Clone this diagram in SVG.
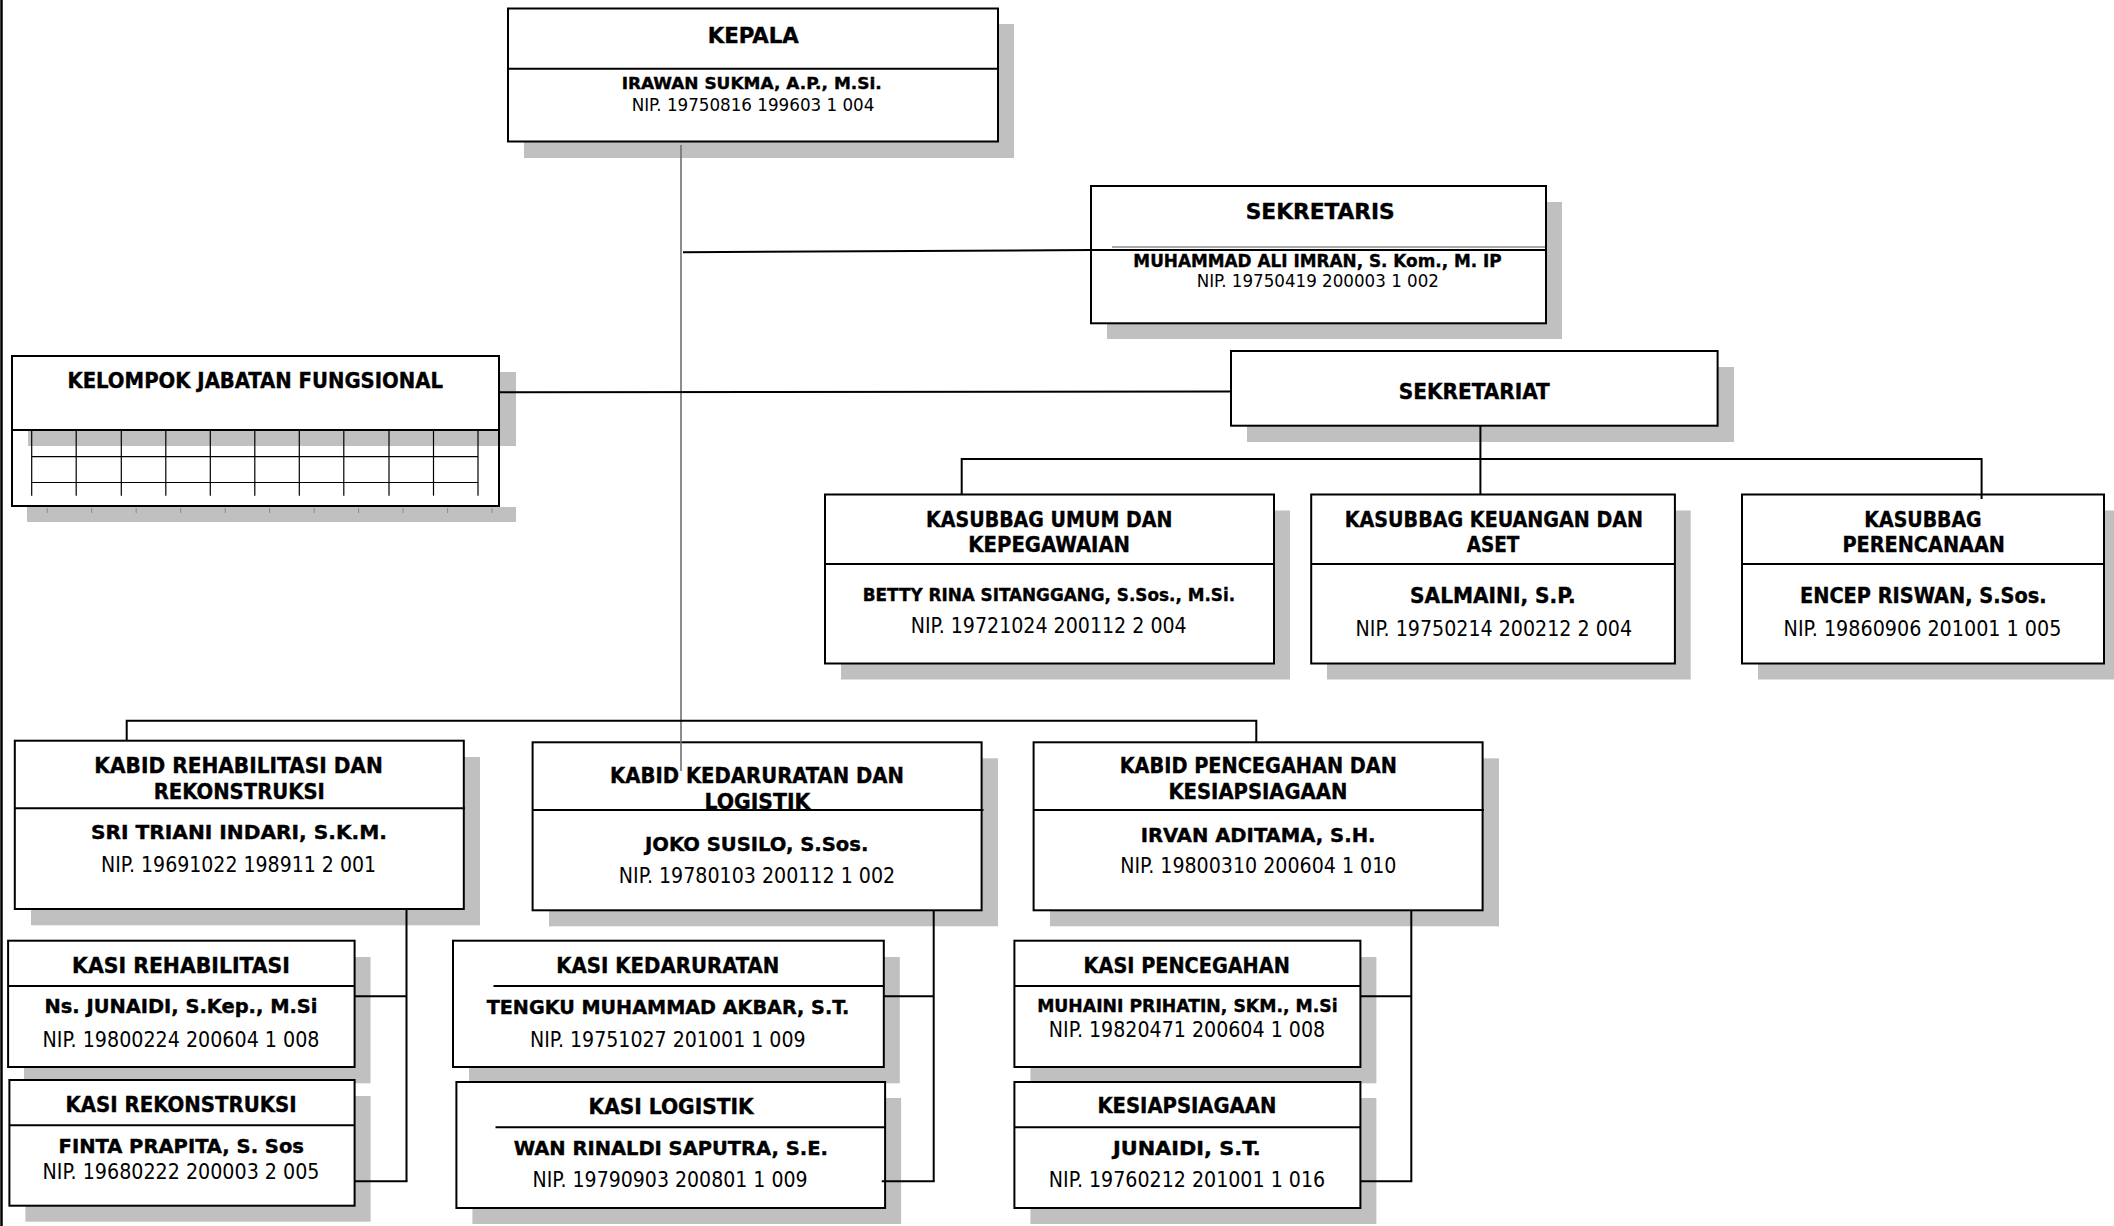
<svg xmlns="http://www.w3.org/2000/svg" width="2114" height="1226" viewBox="0 0 2114 1226">
<style>
.s{fill:#c0c0c0}
.b{fill:#fff;stroke:#000;stroke-width:2}
.o{fill:none;stroke:#000;stroke-width:2}
.d{stroke:#000;stroke-width:2}
.g{stroke:#000;stroke-width:1.2}
.t{stroke:#8a8a8a;stroke-width:1}
.c{stroke:#000;stroke-width:2;fill:none}
text{font-family:'DejaVu Sans Condensed','DejaVu Sans',sans-serif;text-anchor:middle;fill:#000}
.h{font-weight:bold;font-size:21.5px;stroke:#000;stroke-width:0.35}
.n{font-weight:bold;font-size:20px;stroke:#000;stroke-width:0.35}
.p{font-size:20.5px}
</style>
<rect x="0" y="0" width="2114" height="1226" fill="#fff"/>
<line x1="1.5" y1="0" x2="1.5" y2="1226" stroke="#000" stroke-width="2.5"/>

<g id="kepala">
<rect class="s" x="524" y="24" width="490" height="134"/>
<rect class="b" x="508" y="8.5" width="490" height="133"/>
<line class="d" x1="508" y1="68.7" x2="998" y2="68.7"/>
<text class="h" x="753.2" y="42.7" textLength="91" lengthAdjust="spacingAndGlyphs">KEPALA</text>
<text class="n" x="751.7" y="89.3" style="font-size:16px" textLength="260" lengthAdjust="spacingAndGlyphs">IRAWAN SUKMA, A.P., M.Si.</text>
<text class="p" x="753" y="111.3" style="font-size:18px" textLength="242.7" lengthAdjust="spacingAndGlyphs">NIP. 19750816 199603 1 004</text>
</g>

<g id="sekretaris">
<rect class="s" x="1107" y="202" width="455" height="137"/>
<rect class="b" x="1091" y="186" width="455" height="137.3"/>
<line x1="1112" y1="247" x2="1545" y2="247" stroke="#a8a8a8" stroke-width="2"/>
<line class="d" x1="1091" y1="250" x2="1546" y2="250"/>
<text class="h" x="1320.2" y="219.3" textLength="149" lengthAdjust="spacingAndGlyphs">SEKRETARIS</text>
<text class="n" x="1317.5" y="267.3" style="font-size:17.5px" textLength="368.3" lengthAdjust="spacingAndGlyphs">MUHAMMAD ALI IMRAN, S. Kom., M. IP</text>
<text class="p" x="1317.8" y="287" style="font-size:18px" textLength="242.3" lengthAdjust="spacingAndGlyphs">NIP. 19750419 200003 1 002</text>
</g>

<g id="kelompok">
<rect class="s" x="28" y="372" width="488" height="74"/>
<rect class="s" x="27" y="507" width="489" height="15"/>
<line class="t" x1="47.2" y1="508" x2="47.2" y2="513"/>
<line class="t" x1="91.7" y1="508" x2="91.7" y2="513"/>
<line class="t" x1="136.2" y1="508" x2="136.2" y2="513"/>
<line class="t" x1="180.7" y1="508" x2="180.7" y2="513"/>
<line class="t" x1="225.2" y1="508" x2="225.2" y2="513"/>
<line class="t" x1="269.7" y1="508" x2="269.7" y2="513"/>
<line class="t" x1="314.2" y1="508" x2="314.2" y2="513"/>
<line class="t" x1="358.6" y1="508" x2="358.6" y2="513"/>
<line class="t" x1="403.1" y1="508" x2="403.1" y2="513"/>
<line class="t" x1="447.6" y1="508" x2="447.6" y2="513"/>
<line class="t" x1="492.1" y1="508" x2="492.1" y2="513"/>
<rect class="b" x="12" y="356" width="487" height="74"/>
<line class="g" x1="31.7" y1="430" x2="31.7" y2="495.7"/>
<line class="g" x1="76.2" y1="430" x2="76.2" y2="495.7"/>
<line class="g" x1="121.3" y1="430" x2="121.3" y2="495.7"/>
<line class="g" x1="165.8" y1="430" x2="165.8" y2="495.7"/>
<line class="g" x1="210.3" y1="430" x2="210.3" y2="495.7"/>
<line class="g" x1="254.8" y1="430" x2="254.8" y2="495.7"/>
<line class="g" x1="299.3" y1="430" x2="299.3" y2="495.7"/>
<line class="g" x1="343.8" y1="430" x2="343.8" y2="495.7"/>
<line class="g" x1="389" y1="430" x2="389" y2="495.7"/>
<line class="g" x1="433.5" y1="430" x2="433.5" y2="495.7"/>
<line class="g" x1="478" y1="430" x2="478" y2="495.7"/>
<line class="g" x1="31.7" y1="456.7" x2="478" y2="456.7"/>
<line class="g" x1="31.7" y1="482.5" x2="478" y2="482.5"/>
<rect class="o" x="12" y="430" width="487" height="76"/>
<text class="h" x="255.2" y="388.3" textLength="375.5" lengthAdjust="spacingAndGlyphs">KELOMPOK JABATAN FUNGSIONAL</text>
</g>

<g id="sekretariat">
<rect class="s" x="1247" y="367" width="487" height="75"/>
<rect class="b" x="1231" y="351" width="486.6" height="74.7"/>
<text class="h" x="1474.3" y="399" textLength="151" lengthAdjust="spacingAndGlyphs">SEKRETARIAT</text>
</g>

<g id="kasubbag-umum">
<rect class="s" x="841" y="510.5" width="449" height="169"/>
<rect class="b" x="825" y="494.5" width="449" height="169"/>
<line class="d" x1="825" y1="564" x2="1274" y2="564"/>
<text class="h" x="1049.2" y="526.7" textLength="246.3" lengthAdjust="spacingAndGlyphs">KASUBBAG UMUM DAN</text>
<text class="h" x="1049.2" y="552.3" textLength="161.7" lengthAdjust="spacingAndGlyphs">KEPEGAWAIAN</text>
<text class="n" x="1048.9" y="600.7" style="font-size:18.5px" textLength="372.3" lengthAdjust="spacingAndGlyphs">BETTY RINA SITANGGANG, S.Sos., M.Si.</text>
<text class="p" x="1048.7" y="633.3" textLength="276" lengthAdjust="spacingAndGlyphs">NIP. 19721024 200112 2 004</text>
</g>

<g id="kasubbag-keuangan">
<rect class="s" x="1327" y="510.5" width="363.7" height="169"/>
<rect class="b" x="1311.2" y="494.5" width="363.7" height="169"/>
<line class="d" x1="1311.2" y1="564" x2="1674.9" y2="564"/>
<text class="h" x="1493.9" y="526.7" textLength="298.3" lengthAdjust="spacingAndGlyphs">KASUBBAG KEUANGAN DAN</text>
<text class="h" x="1493.1" y="552.3" textLength="52.6" lengthAdjust="spacingAndGlyphs">ASET</text>
<text class="n" x="1492.8" y="602.7" style="font-size:20.5px" textLength="165.5" lengthAdjust="spacingAndGlyphs">SALMAINI, S.P.</text>
<text class="p" x="1493.8" y="635.7" textLength="276.5" lengthAdjust="spacingAndGlyphs">NIP. 19750214 200212 2 004</text>
</g>

<g id="kasubbag-perencanaan">
<rect class="s" x="1758" y="510.5" width="362" height="169"/>
<rect class="b" x="1742" y="494.5" width="362" height="169"/>
<line class="d" x1="1742" y1="564" x2="2104" y2="564"/>
<text class="h" x="1923" y="526.7" textLength="117.3" lengthAdjust="spacingAndGlyphs">KASUBBAG</text>
<text class="h" x="1923.7" y="552.3" textLength="162.5" lengthAdjust="spacingAndGlyphs">PERENCANAAN</text>
<text class="n" x="1923.3" y="602.7" style="font-size:20.5px" textLength="246.6" lengthAdjust="spacingAndGlyphs">ENCEP RISWAN, S.Sos.</text>
<text class="p" x="1922.5" y="635.7" textLength="277.8" lengthAdjust="spacingAndGlyphs">NIP. 19860906 201001 1 005</text>
</g>

<g id="kabid-rehabilitasi">
<rect class="s" x="31" y="757" width="449" height="168.3"/>
<rect class="b" x="14.8" y="740.7" width="449" height="168.3"/>
<line class="d" x1="14.8" y1="808.3" x2="465" y2="808.3"/>
<text class="h" x="238.6" y="772.7" textLength="288.5" lengthAdjust="spacingAndGlyphs">KABID REHABILITASI DAN</text>
<text class="h" x="239.3" y="798.7" textLength="171.2" lengthAdjust="spacingAndGlyphs">REKONSTRUKSI</text>
<text class="n" x="239" y="838.7" textLength="296" lengthAdjust="spacingAndGlyphs">SRI TRIANI INDARI, S.K.M.</text>
<text class="p" x="238.6" y="871.7" textLength="275" lengthAdjust="spacingAndGlyphs">NIP. 19691022 198911 2 001</text>
</g>

<g id="kabid-kedaruratan">
<rect class="s" x="549" y="758.3" width="449" height="168"/>
<rect class="b" x="532.6" y="742.3" width="449" height="168"/>
<line class="d" x1="532.6" y1="810" x2="983.5" y2="810"/>
<text class="h" x="757" y="783.3" textLength="294" lengthAdjust="spacingAndGlyphs">KABID KEDARURATAN DAN</text>
<text class="h" x="757.4" y="809.3" textLength="105.8" lengthAdjust="spacingAndGlyphs">LOGISTIK</text>
<text class="n" x="756.7" y="851" textLength="223.3" lengthAdjust="spacingAndGlyphs">JOKO SUSILO, S.Sos.</text>
<text class="p" x="757" y="882.7" textLength="276.3" lengthAdjust="spacingAndGlyphs">NIP. 19780103 200112 1 002</text>
</g>

<g id="kabid-pencegahan">
<rect class="s" x="1050" y="758.3" width="449" height="168"/>
<rect class="b" x="1033.6" y="742.3" width="449" height="168"/>
<line class="d" x1="1033.6" y1="810" x2="1484" y2="810"/>
<text class="h" x="1258.3" y="773.3" textLength="277.3" lengthAdjust="spacingAndGlyphs">KABID PENCEGAHAN DAN</text>
<text class="h" x="1257.9" y="799.3" textLength="179" lengthAdjust="spacingAndGlyphs">KESIAPSIAGAAN</text>
<text class="n" x="1258.1" y="841.7" textLength="234.8" lengthAdjust="spacingAndGlyphs">IRVAN ADITAMA, S.H.</text>
<text class="p" x="1258.3" y="873.3" textLength="276.3" lengthAdjust="spacingAndGlyphs">NIP. 19800310 200604 1 010</text>
</g>

<g id="kasi-rehabilitasi">
<rect class="s" x="24" y="957" width="346.5" height="126.3"/>
<rect class="b" x="8.1" y="940.7" width="346.5" height="126.3"/>
<line class="d" x1="8.1" y1="986" x2="354.6" y2="986"/>
<text class="h" x="181" y="972.7" style="font-size:21px" textLength="217.8" lengthAdjust="spacingAndGlyphs">KASI REHABILITASI</text>
<text class="n" x="181" y="1013.3" style="font-size:19.5px" textLength="273" lengthAdjust="spacingAndGlyphs">Ns. JUNAIDI, S.Kep., M.Si</text>
<text class="p" x="181" y="1046.7" textLength="277" lengthAdjust="spacingAndGlyphs">NIP. 19800224 200604 1 008</text>
</g>

<g id="kasi-rekonstruksi">
<rect class="s" x="25.4" y="1096" width="345.2" height="125.7"/>
<rect class="b" x="9.4" y="1080" width="345.2" height="125.7"/>
<line class="d" x1="9.4" y1="1125.3" x2="354.6" y2="1125.3"/>
<text class="h" x="181" y="1112" style="font-size:21px" textLength="231.2" lengthAdjust="spacingAndGlyphs">KASI REKONSTRUKSI</text>
<text class="n" x="181.3" y="1152.7" style="font-size:19.5px" textLength="245.4" lengthAdjust="spacingAndGlyphs">FINTA PRAPITA, S. Sos</text>
<text class="p" x="181" y="1178.7" textLength="277" lengthAdjust="spacingAndGlyphs">NIP. 19680222 200003 2 005</text>
</g>

<g id="kasi-kedaruratan">
<rect class="s" x="469" y="957" width="430.8" height="126.3"/>
<rect class="b" x="453" y="940.7" width="430.8" height="126.3"/>
<line class="d" x1="493.5" y1="986" x2="883.8" y2="986"/>
<text class="h" x="667.8" y="972.7" style="font-size:21px" textLength="223.1" lengthAdjust="spacingAndGlyphs">KASI KEDARURATAN</text>
<text class="n" x="668" y="1014" style="font-size:19.5px" textLength="362.7" lengthAdjust="spacingAndGlyphs">TENGKU MUHAMMAD AKBAR, S.T.</text>
<text class="p" x="667.8" y="1046.7" textLength="275.7" lengthAdjust="spacingAndGlyphs">NIP. 19751027 201001 1 009</text>
</g>

<g id="kasi-logistik">
<rect class="s" x="472.4" y="1098" width="428.7" height="126"/>
<rect class="b" x="456.4" y="1082" width="428.7" height="126"/>
<line class="d" x1="495.5" y1="1127.3" x2="885.1" y2="1127.3"/>
<text class="h" x="671.1" y="1114" style="font-size:21px" textLength="165.2" lengthAdjust="spacingAndGlyphs">KASI LOGISTIK</text>
<text class="n" x="670.8" y="1155" style="font-size:19.5px" textLength="314.1" lengthAdjust="spacingAndGlyphs">WAN RINALDI SAPUTRA, S.E.</text>
<text class="p" x="670.1" y="1187.3" textLength="275" lengthAdjust="spacingAndGlyphs">NIP. 19790903 200801 1 009</text>
</g>

<g id="kasi-pencegahan">
<rect class="s" x="1030.4" y="957" width="346" height="126.3"/>
<rect class="b" x="1014.4" y="940.7" width="346" height="126.3"/>
<line class="d" x1="1014.4" y1="986" x2="1360.4" y2="986"/>
<text class="h" x="1186.7" y="972.7" style="font-size:21px" textLength="206.2" lengthAdjust="spacingAndGlyphs">KASI PENCEGAHAN</text>
<text class="n" x="1187.4" y="1011.7" style="font-size:18px" textLength="300.5" lengthAdjust="spacingAndGlyphs">MUHAINI PRIHATIN, SKM., M.Si</text>
<text class="p" x="1187" y="1036.7" textLength="276.3" lengthAdjust="spacingAndGlyphs">NIP. 19820471 200604 1 008</text>
</g>

<g id="kesiapsiagaan">
<rect class="s" x="1030.4" y="1098" width="346" height="126"/>
<rect class="b" x="1014.4" y="1082" width="346" height="126"/>
<line class="d" x1="1014.4" y1="1127.3" x2="1360.4" y2="1127.3"/>
<text class="h" x="1186.9" y="1113.3" style="font-size:21px" textLength="179" lengthAdjust="spacingAndGlyphs">KESIAPSIAGAAN</text>
<text class="n" x="1186.9" y="1155" style="font-size:19.5px" textLength="147.8" lengthAdjust="spacingAndGlyphs">JUNAIDI, S.T.</text>
<text class="p" x="1187" y="1187.3" textLength="276.3" lengthAdjust="spacingAndGlyphs">NIP. 19760212 201001 1 016</text>
</g>

<g id="connectors">
<line x1="681" y1="145" x2="681" y2="771" stroke="#707070" stroke-width="1.6"/>
<line class="c" x1="683" y1="252.3" x2="1091" y2="250"/>
<line class="c" x1="499" y1="392.3" x2="1231" y2="391.5"/>
<line class="c" x1="1480.4" y1="425.7" x2="1480.4" y2="494.5"/>
<polyline class="c" points="961.7,494.5 961.7,459 1981.6,459 1981.6,499"/>
<polyline class="c" points="126.7,740.7 126.7,720.7 1256.3,720.7 1256.3,742.3"/>
<line class="c" x1="406.5" y1="909" x2="406.5" y2="1181.3"/>
<line class="c" x1="354.6" y1="996.3" x2="406.5" y2="996.3"/>
<line class="c" x1="354.6" y1="1181.3" x2="407.5" y2="1181.3"/>
<line class="c" x1="933.7" y1="910.3" x2="933.7" y2="1181.3"/>
<line class="c" x1="883.8" y1="996.3" x2="933.7" y2="996.3"/>
<line class="c" x1="881.7" y1="1181.3" x2="934.7" y2="1181.3"/>
<line class="c" x1="1411.3" y1="910.3" x2="1411.3" y2="1181.3"/>
<line class="c" x1="1360.4" y1="996.3" x2="1411.3" y2="996.3"/>
<line class="c" x1="1360.4" y1="1181.3" x2="1412.3" y2="1181.3"/>
</g>
</svg>
